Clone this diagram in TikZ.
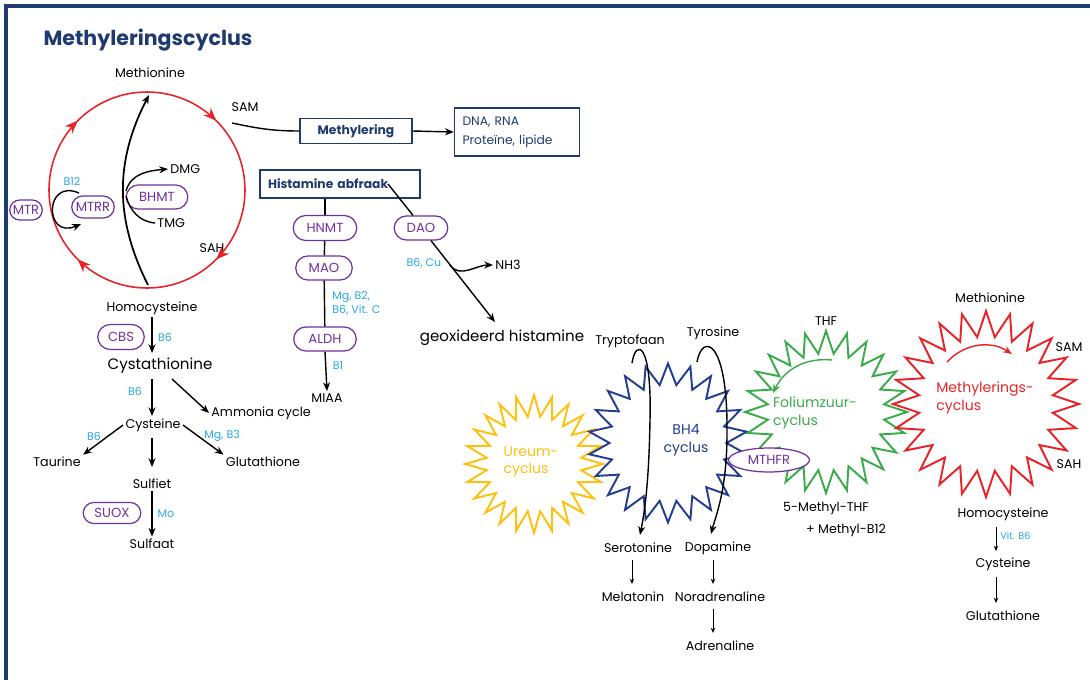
\documentclass[tikz,border=0pt]{standalone}
\usepackage{fontspec}
\setmainfont{Poppins}
\usetikzlibrary{positioning,shapes.geometric,shapes.misc,arrows.meta,decorations.markings}

\definecolor{kader}{RGB}{31,58,112}
\definecolor{paars}{RGB}{112,48,160}
\definecolor{vitamine}{RGB}{41,168,224}
\definecolor{rood}{RGB}{232,35,40}
\definecolor{groen}{RGB}{59,170,74}
\definecolor{geel}{RGB}{255,192,14}
\definecolor{bhblauw}{RGB}{35,61,145}

\tikzset{
  stof/.style={font=\fontsize{7.2}{8.5}\selectfont, inner sep=1pt},
  groot/.style={font=\fontsize{8.6}{10}\selectfont, inner sep=1pt},
  vit/.style={text=vitamine, font=\fontsize{6.3}{8}\selectfont, inner sep=1pt, align=left},
  enz/.style={rounded rectangle, draw=paars, text=paars, line width=0.7pt,
    font=\fontsize{7.5}{9}\selectfont, inner sep=1pt, minimum height=0.48cm},
  kop/.style={draw=kader, text=kader, line width=0.8pt, inner xsep=0.16cm,
    font=\bfseries\fontsize{7}{8.5}\selectfont},
  ster/.style={star, star points=24, star point ratio=1.38, line width=1.1pt, inner sep=0pt},
  klein/.style={-{Stealth[length=3pt,width=2.5pt]}, line width=0.5pt}
}

\begin{document}
\begin{tikzpicture}[x=0.02cm, y=0.02cm, >={Stealth[length=5pt,width=4pt]}, line width=0.8pt]
  \useasboundingbox (0,0) rectangle (1090,-680);
  \draw[kader, line width=1.8pt] (6,-680) -- (6,-6) -- (1090,-6);
  \node[anchor=west, text=kader, font=\bfseries\fontsize{11.7}{13}\selectfont] (titel) at (37,-40) {Methyleringscyclus};

  % methyleringscyclus links
  \node[stof] (met) at (150,-73) {Methionine};
  \node[stof] (sam) at (245,-107) {SAM};
  \node[stof] (sah) at (212,-248) {SAH};
  \node[stof] (hcy) at (152,-308) {Homocysteine};
  \coordinate (mc) at (147,-190);
  \draw[rood, line width=0.9pt, decoration={markings,
      mark=at position 0.125 with {\arrow{Stealth[length=7.5pt,width=6pt]}},
      mark=at position 0.375 with {\arrow{Stealth[length=7.5pt,width=6pt]}},
      mark=at position 0.625 with {\arrow{Stealth[length=7.5pt,width=6pt]}},
      mark=at position 0.875 with {\arrow{Stealth[length=7.5pt,width=6pt]}}},
    postaction=decorate] (mc) ++(0:98) arc[start angle=0, end angle=-360, radius=98];
  \coordinate (bodem) at (148,-285);
  \coordinate (boven) at (149,-95);
  \draw[->, line width=1pt] (bodem) to[bend left=27] (boven);
  \node[enz, minimum width=1.3cm] (bhmt) at (157,-197) {BHMT};
  \node[stof, anchor=west] (dmg) at (168,-169) {DMG};
  \node[stof, anchor=west] (tmg) at (155,-223) {TMG};
  \draw[->] (126,-191) to[out=75,in=185] (dmg.west);
  \draw (126,-196) to[out=-75,in=175] (tmg.west);
  \node[enz, minimum width=0.72cm, minimum height=0.4cm] (mtr) at (26,-210) {MTR};
  \node[enz, minimum width=0.92cm, minimum height=0.44cm] (mtrr) at (93,-207) {MTRR};
  \node[vit] (b12) at (72,-181) {B12};
  \draw[->] (79,-193) .. controls (44,-178) and (44,-240) .. (81,-224);

  % methylering
  \node[kop, minimum width=2.24cm, minimum height=0.46cm] (methyl) at (356,-131) {Methylering};
  \node[kop, font=\fontsize{7}{11}\selectfont, text width=2.18cm, align=left, minimum height=0.96cm] (dna) at (517,-132) {DNA, RNA\\Proteïne, lipide};
  \coordinate (samp) at (232,-123);
  \draw (samp) to[out=-12,in=180] (methyl.west);
  \draw[->] (methyl.east) -- (dna.west);

  % histamine abfraak
  \node[kop, text width=2.88cm, align=left, minimum height=0.56cm] (hist) at (340,-184) {Histamine abfraak};
  \node[enz, minimum width=1.34cm, minimum height=0.5cm] (hnmt) at (325,-228) {HNMT};
  \node[enz, minimum width=1.2cm] (mao) at (324,-268) {MAO};
  \node[enz, minimum width=1.32cm] (aldh) at (325,-339) {ALDH};
  \node[stof] (miaa) at (327,-398) {MIAA};
  \node[vit, anchor=west] (mgb2) at (330,-303) {Mg, B2,\\B6, Vit. C};
  \node[vit] (b1) at (338,-365) {B1};
  \draw (hnmt.north) -- (hnmt.north |- hist.south);
  \draw (hnmt) -- (mao);
  \draw (mao) -- (aldh);
  \draw[->] (aldh.south) -- (miaa.north);
  \node[enz, minimum width=1.14cm] (dao) at (421,-228) {DAO};
  \coordinate (h1) at (388,-184);
  \draw (h1) -- ([xshift=-0.16cm]dao.north);
  \node[groot] (geox) at (502,-338) {geoxideerd histamine};
  \draw[->] ([xshift=0.2cm]dao.south) -- (495,-322);
  \coordinate (nh) at (450,-265);
  \node[stof, anchor=west] (nh3) at (493,-265) {NH3};
  \draw[->] (nh) to[out=-55,in=180] (nh3.west);
  \node[vit] (b6cu) at (424,-263) {B6, Cu};

  % transsulfuratie
  \node[enz, minimum width=1.0cm, minimum height=0.5cm] (cbs) at (121,-337) {CBS};
  \node[groot] (cysta) at (160,-366) {Cystathionine};
  \node[vit] (b6a) at (165,-337) {B6};
  \draw[->] (hcy.south -| 152,0) -- (152,-353);
  \node[stof] (cys) at (153,-425) {Cysteine};
  \node[stof, anchor=west] (amm) at (209,-413) {Ammonia cycle};
  \node[vit] (b6b) at (135,-391) {B6};
  \draw[->] (152,-379) -- (cys.north -| 152,0);
  \draw[->] (172,-379) -- (amm.west);
  \node[stof] (taur) at (57,-462) {Taurine};
  \node[stof] (glut) at (263,-462) {Glutathione};
  \node[stof] (sulfiet) at (152,-484) {Sulfiet};
  \node[vit] (b6c) at (94,-436) {B6};
  \node[vit, anchor=west] (mgb3) at (202,-436) {Mg, B3};
  \draw[->] (cys.west) -- (taur.north east);
  \draw[->] (152,-438) -- (152,-467);
  \draw[->] (cys.east) -- (glut.north west);
  \node[enz, minimum width=1.22cm, minimum height=0.42cm] (suox) at (112,-513) {SUOX};
  \node[vit] (mo) at (166,-514) {Mo};
  \node[stof] (sulfaat) at (152,-544) {Sulfaat};
  \draw[->] (sulfiet.south) -- (sulfaat.north);

  % cycli rechts
  \node[ster, draw=geel, minimum size=2.76cm, star point ratio=1.45] (ureum) at (534,-464) {};
  \node[ster, draw=bhblauw, minimum size=3.18cm, star points=22, star point ratio=1.36] (bh4) at (668,-443) {};
  \node[ster, draw=groen, minimum size=3.24cm] (folium) at (826,-412) {};
  \node[ster, draw=rood, minimum size=3.72cm] (methcyc) at (986,-404) {};
  \node[text=geel, font=\fontsize{8}{10}\selectfont, align=left] (ureumtxt) at (531,-462) {Ureum-\\cyclus};
  \node[text=bhblauw, font=\fontsize{8}{10}\selectfont, align=center] (bh4txt) at (686,-440) {BH4\\cyclus};
  \node[text=groen, font=\fontsize{8}{10}\selectfont, align=left] (foltxt) at (815,-413) {Foliumzuur-\\cyclus};
  \node[text=rood, font=\fontsize{8}{10}\selectfont, align=left] (mettxt) at (985,-398) {Methylerings-\\cyclus};
  \node[ellipse, draw=paars, text=paars, fill=white, line width=0.7pt, font=\fontsize{7.5}{9}\selectfont,
    minimum width=1.62cm, minimum height=0.48cm, inner sep=0pt] (mthfr) at (769,-460) {MTHFR};
  \draw[->, groen] (832,-360) to[bend right=35] (773,-393);
  \draw[->, rood] (947,-362) to[bend left=40] (1012,-354);

  \node[stof] (thf) at (826,-321) {THF};
  \node[stof] (mthf) at (826,-508) {5-Methyl-THF};
  \node[stof] (mb12) at (846,-530) {+ Methyl-B12};
  \node[stof] (met2) at (990,-298) {Methionine};
  \node[stof] (sam2) at (1069,-347) {SAM};
  \node[stof] (sah2) at (1069,-464) {SAH};
  \node[stof] (hcy2) at (1003,-514) {Homocysteine};
  \node[stof] (cys2) at (1003,-564) {Cysteine};
  \node[stof] (glut2) at (1003,-616) {Glutathione};
  \node[vit, font=\fontsize{5.5}{7}\selectfont, anchor=west] (vitb6) at (998,-536) {Vit. B6};
  \draw[klein] (996,-527) -- (996,-551);
  \draw[klein] (996,-577) -- (996,-603);

  % neurotransmitters
  \node[stof] (trp) at (630,-341) {Tryptofaan};
  \node[stof] (tyr) at (713,-333) {Tyrosine};
  \node[stof] (sero) at (638,-548) {Serotonine};
  \node[stof] (dopa) at (718,-548) {Dopamine};
  \node[stof] (mela) at (633,-597) {Melatonin};
  \node[stof] (nora) at (720,-597) {Noradrenaline};
  \node[stof] (adre) at (720,-646) {Adrenaline};
  \draw[->] (632,-363) .. controls (636,-338) and (652,-342) .. (650,-420)
    .. controls (649,-480) and (645,-510) .. (640,-535);
  \draw[->] (697,-362) .. controls (702,-333) and (728,-338) .. (727,-433)
    .. controls (727,-490) and (716,-515) .. (711,-534);
  \draw[klein] (632,-560) -- (632,-584);
  \draw[klein] (713,-560) -- (713,-584);
  \draw[klein] (713,-609) -- (713,-633);
\end{tikzpicture}
\end{document}
